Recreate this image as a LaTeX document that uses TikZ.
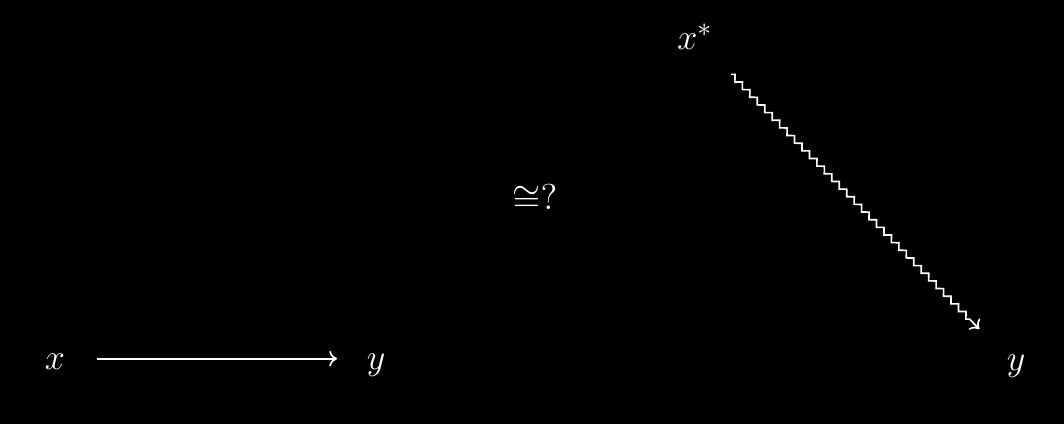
\documentclass[tikz,border=0pt]{standalone}
\usetikzlibrary{arrows.meta,decorations.pathmorphing,calc}
\begin{document}
\begin{tikzpicture}[x=0.33333pt,y=-0.33333pt,font=\fontsize{13}{15}\selectfont,
  lbl/.style={text=white,inner sep=0pt,anchor=base},
  row/.style={text height=2ex,text depth=0.25ex},
  cdarrow/.style={draw=white,line width=0.55pt,-{Computer Modern Rightarrow[length=2.6pt,width=5.2pt]}},
  squig/.style={cdarrow,decorate,decoration={zigzag,segment length=3.56pt,amplitude=0.89pt,pre length=0pt,post length=3.5pt}}]
\fill[black] (0,0) rectangle (1064,424);
\node[lbl,row] (x)  at (55,370) {$x$};
\node[lbl,row] (y)  at (376,370) {$y$};
\node[lbl] (xs) at (695,50) {$x^*$};
\node[lbl] (y2) at (1016,371) {$y$};
\node[text=white,inner sep=0pt] (iso) at (535,198) {$\cong ?$};
\draw[cdarrow,shorten <=10.3pt,shorten >=9.7pt] (x) -- (y);
\draw[squig] ($(xs)!17.3pt!(y2)$) -- ($(y2)!17.5pt!(xs)$);
\end{tikzpicture}
\end{document}
